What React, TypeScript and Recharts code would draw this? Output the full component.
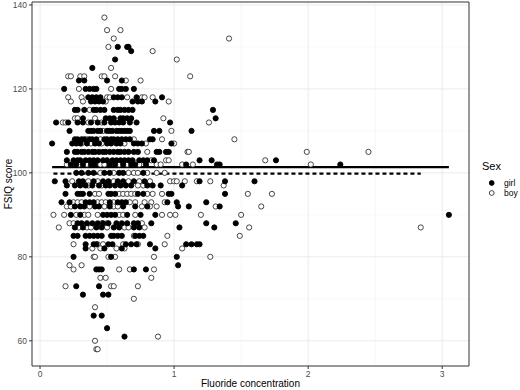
import {
  CartesianGrid,
  Label,
  ReferenceArea,
  ReferenceLine,
  Scatter,
  ScatterChart,
  XAxis,
  YAxis,
} from "recharts";

// FSIQ score -> fluoride concentrations observed at that score
const girlRows: [number, number[]][] = [
  [130, [0.58, 0.65, 0.66]],
  [129, [0.68]],
  [127, [0.56]],
  [125, [0.39]],
  [122, [0.29, 0.33, 0.5, 0.61]],
  [120, [0.18, 0.34, 0.37, 0.4, 0.42, 0.59, 0.61, 0.64, 0.7]],
  [118, [0.36, 0.39, 0.42, 0.45, 0.55, 0.58, 0.61, 0.72, 0.91]],
  [117, [0.38, 0.41, 0.44, 0.47, 0.69, 0.73, 0.76, 0.86]],
  [115, [0.26, 0.28, 0.33, 0.4, 0.42, 0.45, 0.48, 0.55, 0.58, 0.6, 0.63, 0.66, 0.69, 1.29]],
  [113, [0.32, 0.49, 0.52, 0.55, 0.6, 0.62, 0.65, 0.68, 1.31]],
  [112, [0.12, 0.21, 0.28, 0.32, 0.38, 0.43, 0.48, 0.53, 0.56, 0.59, 0.62, 0.67, 0.72, 0.97]],
  [110, [0.22, 0.36, 0.38, 0.4, 0.43, 0.45, 0.5, 0.52, 0.54, 0.57, 0.59, 0.61, 0.63, 0.65, 0.67, 0.85, 0.89, 1.13]],
  [108, [0.26, 0.28, 0.31, 0.33, 0.37, 0.39, 0.42, 0.48, 0.5, 0.53, 0.55, 0.58, 0.61, 0.64, 0.67, 0.82, 0.84]],
  [107, [0.09, 0.24, 0.27, 0.3, 0.35, 0.41, 0.44, 0.5, 0.53, 0.57, 0.6, 0.7, 0.73, 0.76, 0.98]],
  [105, [0.2, 0.26, 0.28, 0.31, 0.33, 0.36, 0.39, 0.41, 0.44, 0.47, 0.49, 0.52, 0.55, 0.58, 0.6, 0.63, 0.66, 0.7, 0.73, 0.87, 0.89, 0.94, 0.96]],
  [103, [0.2, 0.25, 0.28, 0.3, 0.34, 0.37, 0.4, 0.43, 0.47, 0.5, 0.54, 0.57, 0.6, 0.63, 0.66, 0.69, 0.74, 0.77, 0.8, 0.85, 1.19, 1.28, 1.76]],
  [102, [0.23, 0.27, 0.32, 0.38, 0.41, 0.52, 0.56, 0.62, 0.68, 0.71, 0.79, 1.09, 1.32, 1.34, 2.24]],
  [100, [0.27, 0.31, 0.36, 0.4, 0.48, 0.52, 0.59, 0.62, 0.77]],
  [98, [0.11, 0.19, 0.29, 0.32, 0.4, 0.47, 0.51, 0.58, 0.62, 0.7, 0.78, 1.19, 1.38, 1.6]],
  [97, [0.2, 0.26, 0.3, 0.34, 0.39, 0.44, 0.49, 0.52, 0.56, 0.6, 0.64, 0.68, 0.8, 0.84, 0.9, 1.06]],
  [95, [0.19, 0.28, 0.3, 0.32, 0.37, 0.51, 0.53, 0.56, 0.73, 0.77, 0.96, 0.98, 1.38]],
  [93, [0.16, 0.22, 0.34, 0.37, 0.4, 0.52, 0.58, 0.61, 0.64, 0.95, 1.02, 1.24]],
  [92, [0.26, 0.3, 0.33, 0.41, 0.44, 0.52, 0.62, 0.71, 0.8, 1.03, 1.11, 1.34]],
  [90, [0.23, 0.3, 0.47, 0.5, 0.53, 0.56, 0.65, 0.75, 0.86, 3.05]],
  [88, [0.28, 0.31, 0.35, 0.39, 0.43, 0.47, 0.51, 0.57, 0.61, 0.65, 0.7, 0.73, 0.83, 1.24, 1.46]],
  [87, [0.26, 0.32, 0.42, 0.46, 0.55, 0.59, 0.7, 0.74, 1.04, 1.3]],
  [85, [0.25, 0.28, 0.34, 0.37, 0.4, 0.43, 0.46, 0.53, 0.55, 0.58, 0.61, 0.71, 0.74, 0.77]],
  [83, [0.34, 0.4, 0.42, 0.51, 0.54, 0.64, 0.68, 0.72, 0.82, 1.09, 1.13, 1.17, 1.19]],
  [82, [0.34, 0.48, 0.61, 0.86]],
  [80, [0.25, 0.53, 1.02]],
  [78, [1.03]],
  [77, [0.42, 0.44, 0.46, 0.7, 0.79]],
  [73, [0.27, 0.44]],
  [71, [0.32, 0.47, 0.51]],
  [66, [0.4, 0.46]],
  [63, [0.5]],
  [61, [0.63]],
];

const boyRows: [number, number[]][] = [
  [137, [0.48]],
  [134, [0.5, 0.6]],
  [132, [0.55, 1.41]],
  [130, [0.51]],
  [129, [0.84]],
  [127, [1.02]],
  [125, [0.53]],
  [123, [0.21, 0.23, 0.3, 0.33, 0.46, 0.48, 0.56, 1.12]],
  [122, [0.64, 0.75]],
  [120, [0.29, 0.53]],
  [118, [0.21, 0.31, 0.5, 0.52, 0.65, 0.76, 0.78, 0.84]],
  [117, [0.23, 0.32, 0.49, 0.96]],
  [115, [0.37]],
  [113, [0.26, 0.28, 0.41, 0.92]],
  [112, [0.17, 0.19, 0.36, 0.46, 1.26]],
  [110, [0.47, 0.98]],
  [108, [0.35, 0.45, 0.7, 0.91, 1.45]],
  [107, [0.31, 0.38, 0.46, 0.63, 0.79, 1.0]],
  [105, [0.8, 1.1, 1.11, 1.99, 2.45]],
  [103, [0.83, 0.94, 0.96, 1.68]],
  [102, [0.2, 0.29, 0.35, 0.45, 0.48, 0.59, 0.65, 0.74, 0.87, 0.9, 1.06, 1.14, 2.02]],
  [100, [0.45, 0.55, 0.66, 0.7, 0.73, 0.8, 0.87, 0.93]],
  [98, [0.24, 0.36, 0.43, 0.55, 0.66, 0.74, 0.82, 0.97, 1.0, 1.02, 1.08, 1.17, 1.27]],
  [97, [0.36, 0.46, 0.73, 0.77, 1.37]],
  [95, [0.41, 0.44, 0.59, 0.62, 0.65, 0.68, 0.71, 0.8, 0.84, 0.91, 1.55, 1.73]],
  [93, [0.25, 0.28, 0.31, 0.43, 0.46, 0.49, 0.55, 0.67, 0.71, 0.78, 0.83, 0.93]],
  [92, [0.2, 0.23, 0.37, 0.48, 0.55, 0.58, 0.76, 0.82, 0.87, 1.31, 1.65]],
  [90, [0.1, 0.18, 0.27, 0.33, 0.36, 0.43, 0.59, 0.62, 0.71, 0.91, 0.97, 1.01, 1.2, 1.5]],
  [88, [0.22, 0.25, 0.46, 0.5, 0.76]],
  [87, [0.14, 0.29, 0.35, 0.38, 0.5, 0.63, 0.66, 0.78, 1.56, 2.84]],
  [85, [0.7, 0.95, 1.49]],
  [83, [0.25, 0.43, 0.47, 0.62, 0.73, 0.93]],
  [82, [0.39, 0.45, 0.57, 0.63, 1.06]],
  [80, [0.4, 0.41, 0.51, 0.56, 0.85, 1.27]],
  [78, [0.22, 0.31]],
  [77, [0.25, 0.59, 0.67, 0.85]],
  [75, [0.45, 0.49, 0.83]],
  [73, [0.19, 0.53, 0.55, 0.73]],
  [70, [0.7]],
  [68, [0.41]],
  [61, [0.88]],
  [60, [0.41]],
  [58, [0.42, 0.43]],
];

// fitted lines (girl solid, boy dashed)
const girlFit = [
  { x: 0.09, y: 101.35 },
  { x: 3.05, y: 101.35 },
];
const boyFit = [
  { x: 0.1, y: 99.8 },
  { x: 2.84, y: 99.8 },
];

const xTicks = [0, 1, 2, 3];
const xMinor = [0.5, 1.5, 2.5];
const yTicks = [60, 80, 100, 120, 140];
const yMinor = [70, 90, 110, 130];
const xDomain: [number, number] = [-0.06, 3.2];
const yDomain: [number, number] = [54, 140.7];

const toPoints = (rows: [number, number[]][]) =>
  rows.flatMap(([iq, fs]) => fs.map((f) => ({ f, iq })));

const girls = toPoints(girlRows);
const boys = toPoints(boyRows);

const FONT = "'Liberation Sans', Arial, sans-serif";

const dot = (fill: string, stroke: string) => (props: any) =>
  (
    <circle
      cx={props.cx}
      cy={props.cy}
      r={2.6}
      fill={fill}
      stroke={stroke}
      strokeWidth={0.9}
    />
  );

export default function App() {
  const tick = { fontSize: 8.5, fill: "#4d4d4d", fontFamily: FONT };
  return (
    <div style={{ position: "absolute", left: 0, top: 0, width: 520, height: 390, background: "#fff" }}>
      <ScatterChart
        width={520}
        height={390}
        margin={{ top: 2, right: 51, bottom: 0, left: 0 }}
      >
        <CartesianGrid
          stroke="#f3f3f3"
          strokeWidth={0.6}
          horizontalValues={yMinor}
          verticalValues={xMinor}
        />
        <CartesianGrid
          stroke="#ebebeb"
          strokeWidth={1}
          horizontalValues={yTicks}
          verticalValues={xTicks}
        />
        <XAxis
          type="number"
          dataKey="f"
          domain={xDomain}
          ticks={xTicks}
          allowDataOverflow
          height={24}
          axisLine={false}
          tickLine={{ stroke: "#333" }}
          tickSize={3}
          tick={tick}
        >
          <Label
            value="Fluoride concentration"
            position="insideBottom"
            offset={3}
            style={{ fontSize: 10, fill: "#000", fontFamily: FONT }}
          />
        </XAxis>
        <YAxis
          type="number"
          dataKey="iq"
          domain={yDomain}
          ticks={yTicks}
          allowDataOverflow
          width={32}
          axisLine={false}
          tickLine={{ stroke: "#333" }}
          tickSize={3}
          tick={tick}
        >
          <Label
            content={() => (
              <text
                x={8}
                y={184}
                transform="rotate(-90 8 184)"
                textAnchor="middle"
                dominantBaseline="central"
                style={{ fontSize: 10, fill: "#000", fontFamily: FONT }}
              >
                FSIQ score
              </text>
            )}
          />
        </YAxis>
        <Scatter
          name="boy"
          data={boys}
          shape={dot("#fff", "#333")}
          isAnimationActive={false}
        />
        <Scatter
          name="girl"
          data={girls}
          shape={dot("#000", "#000")}
          isAnimationActive={false}
        />
        <ReferenceLine segment={girlFit} stroke="#000" strokeWidth={2.2} />
        <ReferenceLine
          segment={boyFit}
          stroke="#000"
          strokeWidth={2.2}
          strokeDasharray="4 3"
        />
        <ReferenceArea
          x1={xDomain[0]}
          x2={xDomain[1]}
          y1={yDomain[0]}
          y2={yDomain[1]}
          fill="none"
          fillOpacity={0}
          stroke="#333"
          strokeWidth={1}
        />
      </ScatterChart>
      <svg
        width={50}
        height={50}
        style={{ position: "absolute", left: 476, top: 156, fontFamily: FONT }}
      >
        <text x={6} y={10} dominantBaseline="central" style={{ fontSize: 11, fill: "#000" }}>
          Sex
        </text>
        <circle cx={15.7} cy={27} r={2.4} fill="#000" stroke="#000" strokeWidth={0.9} />
        <text x={28} y={27} dominantBaseline="central" style={{ fontSize: 8.5, fill: "#000" }}>
          girl
        </text>
        <circle cx={15.7} cy={37} r={2.4} fill="#fff" stroke="#333" strokeWidth={0.9} />
        <text x={28} y={37} dominantBaseline="central" style={{ fontSize: 8.5, fill: "#000" }}>
          boy
        </text>
      </svg>
    </div>
  );
}
